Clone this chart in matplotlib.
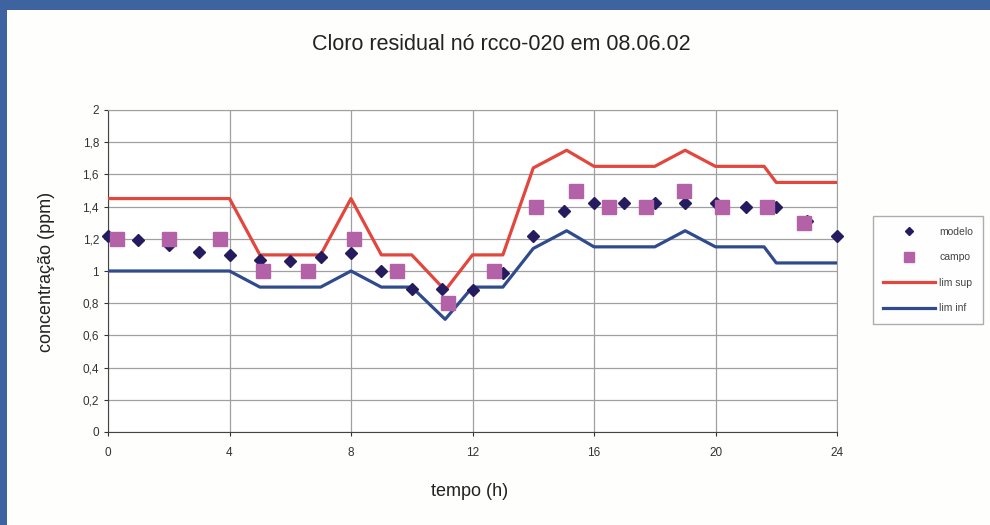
import matplotlib
matplotlib.use('Agg')
import matplotlib.pyplot as plt
from matplotlib.patches import Rectangle
from matplotlib.ticker import FuncFormatter

plt.rcParams['font.family'] = ['Liberation Sans', 'DejaVu Sans']

# data
t_modelo = list(range(0, 25))
modelo = [1.22, 1.19, 1.16, 1.12, 1.10, 1.07, 1.06, 1.09, 1.11, 1.00, 0.89, 0.89, 0.88,
          0.99, 1.22, 1.37, 1.42, 1.42, 1.42, 1.42, 1.42, 1.40, 1.40, 1.31, 1.22]

t_campo = [0.3, 2.0, 3.7, 5.1, 6.6, 8.1, 9.5, 11.2, 12.7, 14.1, 15.4, 16.5, 17.7, 18.95, 20.2, 21.7, 22.9]
campo = [1.2, 1.2, 1.2, 1.0, 1.0, 1.2, 1.0, 0.8, 1.0, 1.4, 1.5, 1.4, 1.4, 1.5, 1.4, 1.4, 1.3]

t_lim = [0, 4, 5, 7, 8, 9, 10, 11.1, 12, 13, 14, 15.1, 16, 18, 19, 20, 21.6, 22, 24]
lim_sup = [1.45, 1.45, 1.1, 1.1, 1.45, 1.1, 1.1, 0.88, 1.1, 1.1, 1.64, 1.75, 1.65, 1.65, 1.75, 1.65, 1.65, 1.55, 1.55]
lim_inf = [1.0, 1.0, 0.9, 0.9, 1.0, 0.9, 0.9, 0.70, 0.9, 0.9, 1.14, 1.25, 1.15, 1.15, 1.25, 1.15, 1.15, 1.05, 1.05]

x_ticks = [0, 4, 8, 12, 16, 20, 24]
y_ticks = [0, 0.2, 0.4, 0.6, 0.8, 1.0, 1.2, 1.4, 1.6, 1.8, 2.0]

fig = plt.figure(figsize=(9.9, 5.25), dpi=100)
fig.patch.set_facecolor('#3d63a0')
# white panel inside the blue frame
fig.patches.append(Rectangle((7/990, 0), 1, 1 - 10/525, transform=fig.transFigure,
                             facecolor='#fefefc', edgecolor='none', zorder=-5))

ax = fig.add_axes([108/990, 1 - 432/525, (837 - 108)/990, (432 - 110)/525])
ax.set_facecolor('white')
ax.set_zorder(2)

ax.plot(t_lim, lim_sup, color='#e2463c', lw=2.3, label='lim sup', zorder=3)
ax.plot(t_lim, lim_inf, color='#2f4b8e', lw=2.3, label='lim inf', zorder=3)
ax.plot(t_modelo, modelo, ls='none', marker='D', ms=6, color='#241c5e',
        label='modelo', zorder=4, clip_on=False)
ax.plot(t_campo, campo, ls='none', marker='s', ms=10.5, color='#b462a8',
        label='campo', zorder=5, clip_on=False)

ax.set_xlim(0, 24)
ax.set_ylim(0, 2)
ax.set_xticks(x_ticks)
ax.set_yticks(y_ticks)
ax.yaxis.set_major_formatter(FuncFormatter(lambda v, p: ('%g' % round(v, 1)).replace('.', ',')))
ax.grid(True, color='#a0a0a0', lw=0.9)
ax.set_axisbelow(True)
ax.tick_params(labelsize=8.5, colors='#333333', length=3, width=0.8)
ax.tick_params(axis='x', pad=8)
for s in ['top', 'right']:
    ax.spines[s].set_color('#a0a0a0')
for s in ['left', 'bottom']:
    ax.spines[s].set_color('#444444')

fig.text(501/990, 1 - 45/525, 'Cloro residual nó rcco-020 em 08.06.02', ha='center', va='center',
         fontsize=15.5, color='#222222')
fig.text(470/990, 1 - 492/525, 'tempo (h)', ha='center', va='center', fontsize=13, color='#222222')
fig.text(47/990, 1 - 272/525, 'concentração (ppm)', ha='center', va='center', rotation=90,
         fontsize=13, color='#222222')

h, l = ax.get_legend_handles_labels()
order = [2, 3, 0, 1]
leg = fig.legend([h[i] for i in order], [l[i] for i in order], loc='center',
                 bbox_to_anchor=(928/990, 1 - 270/525), fontsize=7.5, frameon=True,
                 fancybox=False, edgecolor='#999999', handlelength=5, labelspacing=1.5,
                 borderpad=1.0, handletextpad=0.4, markerscale=0.7)
for txt in leg.get_texts():
    txt.set_color('#444444')

fig.savefig('out.png', dpi=100, facecolor=fig.get_facecolor())
